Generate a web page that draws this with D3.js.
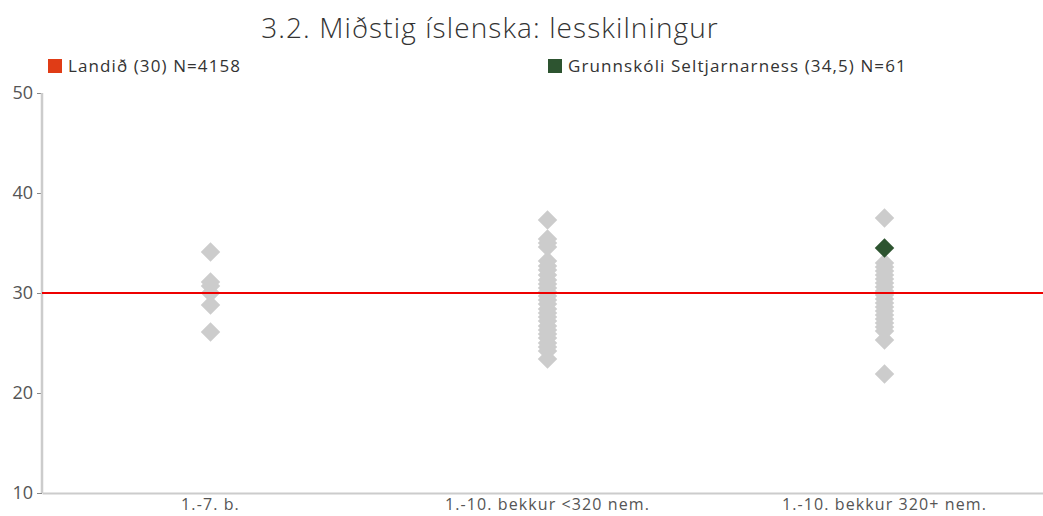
<!DOCTYPE html>
<html><head><meta charset="utf-8">
<script src="https://cdn.jsdelivr.net/npm/d3@7"></script>
<style>
body{margin:0;background:#fff;}
text{font-family:"Open Sans",Lato,sans-serif;}
</style></head>
<body><svg id="c" width="1043" height="516"></svg>
<script>
const title = "3.2. Miðstig íslenska: lesskilningur";
const categories = ["1.-7. b.", "1.-10. bekkur <320 nem.", "1.-10. bekkur 320+ nem."];
const yTicks = [10, 20, 30, 40, 50];
const nationalValue = 30;
const legendLabels = ["Landið (30) N=4158", "Grunnskóli Seltjarnarness (34,5) N=61"];
const colors = {national: "#e03c16", school: "#2d5430", other: "#cccccc", line: "#ee0000"};
const cat1Values = [34.1, 31.1, 30.7, 30.0, 28.8, 26.1];
const cat2Values = [37.3, 35.4, 35.0, 34.6, 33.2, 32.7, 32.3, 31.8, 31.3, 30.9, 30.5, 30.1, 29.7, 29.3, 28.9, 28.4, 28.0, 27.6, 27.2, 26.7, 26.3, 25.9, 25.5, 25.0, 24.6, 24.2, 23.4];
const cat3Values = [37.5, 33.0, 32.6, 32.2, 31.8, 31.4, 31.0, 30.6, 30.2, 29.8, 29.4, 29.0, 28.6, 28.2, 27.8, 27.4, 27.0, 26.6, 26.2, 25.3, 21.9];
const schoolCategory = categories[2];
const schoolValue = 34.5;

const svg = d3.select("#c");
const x = d3.scaleBand().domain(categories).range([42, 1053]);
const y = d3.scaleLinear().domain([10, 50]).range([493, 93]);

svg.append("text").attr("x", 490).attr("y", 38).attr("text-anchor", "middle")
  .attr("font-size", 28).attr("font-weight", 300).attr("letter-spacing", 1.1)
  .attr("fill", "#333").text(title);

// legend
const leg = [{x: 48, c: colors.national, t: legendLabels[0]}, {x: 548, c: colors.school, t: legendLabels[1]}];
leg.forEach(d => {
  svg.append("rect").attr("x", d.x).attr("y", 59).attr("width", 14).attr("height", 14).attr("fill", d.c);
  svg.append("text").attr("x", d.x + 20).attr("y", 72).attr("font-size", 17).attr("letter-spacing", 1.1)
    .attr("fill", "#333").text(d.t);
});

// y axis
const yAxis = svg.append("g").attr("transform", "translate(42,0)")
  .call(d3.axisLeft(y).tickValues(yTicks).tickSize(5).tickPadding(4));
yAxis.select(".domain").remove();
yAxis.selectAll(".tick line").attr("stroke", "#888");
yAxis.selectAll(".tick text").attr("font-size", 18).attr("fill", "#555").attr("font-family", "'Open Sans', sans-serif");
svg.append("line").attr("x1", 42).attr("x2", 42).attr("y1", y(50)).attr("y2", y(10)).attr("stroke", "#cccccc").attr("stroke-width", 2.5);

// x axis
const xAxis = svg.append("g").attr("transform", "translate(0," + y(10) + ")")
  .call(d3.axisBottom(x).tickSize(0).tickPadding(6));
xAxis.select(".domain").attr("stroke", "#cccccc").attr("stroke-width", 2);
xAxis.selectAll(".tick text").attr("font-size", 16).attr("letter-spacing", 1.1)
  .attr("fill", "#555").attr("font-family", "'Open Sans', sans-serif");

// points
const pts = [];
[cat1Values, cat2Values, cat3Values].forEach((arr, i) => arr.forEach(v => pts.push({c: categories[i], v})));
const diamond = d3.symbol().type(d3.symbolDiamond2).size(242);
svg.append("g").selectAll("path").data(pts).join("path")
  .attr("d", diamond)
  .attr("transform", d => `translate(${x(d.c) + x.bandwidth() / 2},${y(d.v)})`)
  .attr("fill", colors.other);

// national line
svg.append("line").attr("x1", 42).attr("x2", 1043).attr("y1", y(nationalValue)).attr("y2", y(nationalValue))
  .attr("stroke", colors.line).attr("stroke-width", 2);

svg.append("path").attr("d", diamond)
  .attr("transform", `translate(${x(schoolCategory) + x.bandwidth() / 2},${y(schoolValue)})`)
  .attr("fill", colors.school);
</script></body></html>
